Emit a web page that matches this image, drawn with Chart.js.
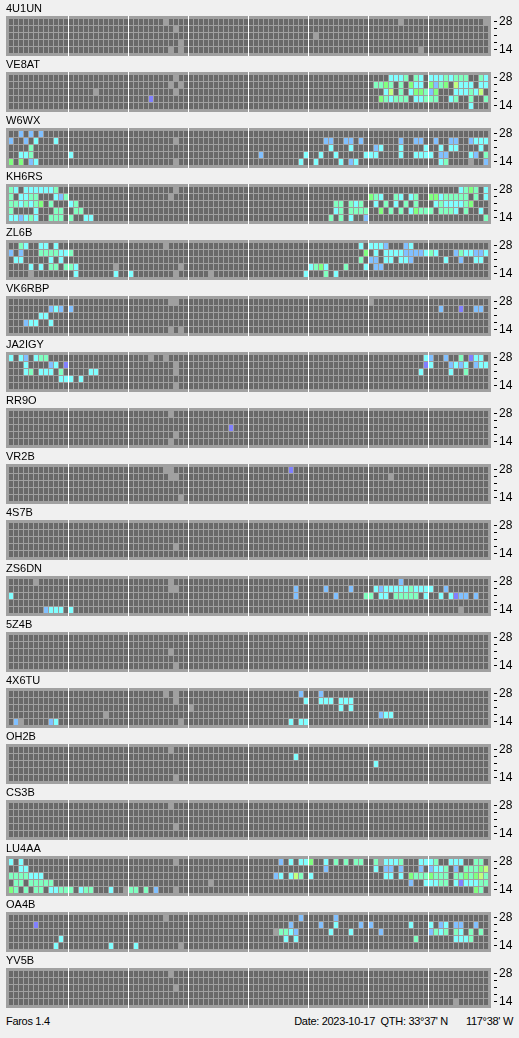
<!DOCTYPE html>
<html>
<head>
<meta charset="utf-8">
<script src="https://cdn.jsdelivr.net/npm/chart.js@4.4.0/dist/chart.umd.min.js"></script>
<style>
  html, body { margin: 0; padding: 0; background: #f0f0f0; }
  body {
    width: 519px; height: 1038px; position: relative; overflow: hidden;
    font-family: "Liberation Sans", Arial, sans-serif; font-size: 11px; color: #000;
  }
  .panel { position: absolute; left: 0; width: 519px; height: 56px; }
  .panel canvas { position: absolute; left: 0; top: 0; }
  .name { position: absolute; left: 6px; top: 2px; line-height: 13px; }
  .foot { position: absolute; top: 1015px; line-height: 13px; white-space: pre; letter-spacing: -0.3px; }
</style>
</head>
<body>
<script>
// 96 slots of 15 minutes (24 h), bands from bottom (14) to top (28)
const slots = Array.from({ length: 96 }, (_, i) => i);
const bands = ["14", "18", "21", "24", "28"];
const shownBands = ["14", "", "", "", "28"];

const beacons = ["4U1UN", "VE8AT", "W6WX", "KH6RS", "ZL6B", "VK6RBP", "JA2IGY", "RR9O", "VR2B",
  "4S7B", "ZS6DN", "5Z4B", "4X6TU", "OH2B", "CS3B", "LU4AA", "OA4B", "YV5B"];

// cell codes: . nothing heard, - no data, p/b/c/m/g/y = signal level (weak -> strong)
const palette = {
  ".": "#696969", p: "#8080ff", b: "#80c0ff", c: "#80ffff",
  m: "#80ffc0", g: "#80ff80", y: "#c0ff80",
};

// rows are listed top (28) to bottom (14); "|" splits the day into 3 h blocks
const E = "............";
const r_4U1UN = [
  `${E}|${E}|.......-....|${E}|${E}|${E}|......-.....|...........-`,
  `${E}|${E}|.........-..|${E}|${E}|${E}|${E}|${E}`,
  `${E}|${E}|${E}|${E}|${E}|.-..........|${E}|${E}`,
  `${E}|${E}|..........-.|${E}|${E}|${E}|${E}|${E}`,
  `${E}|${E}|........-.-.|${E}|${E}|${E}|..........-.|${E}`,
];
const r_VE8AT = [
  `${E}|${E}|.........-..|${E}|${E}|${E}|....cccm.mc.|cccmcmmm..mc`,
  `${E}|${E}|........-.-.|${E}|${E}|${E}|.mmgm.m.gcc.|gbmg.yccc.cc`,
  `${E}|.....-......|.........-..|${E}|${E}|${E}|...cy.m.cggm|bg...cccmcy.`,
  `${E}|${E}|....p.......|${E}|${E}|${E}|..gmcmmm.ccm|mm..cm..m..m`,
  `${E}|${E}|${E}|${E}|${E}|${E}|${E}|........c...`,
];
const r_W6WX = [
  `..b.b.b.....|${E}|${E}|${E}|${E}|${E}|${E}|${E}`,
  `b..b.c...c..|${E}|.........-..|${E}|${E}|...bb..bb.b.|......b..bb.|.b..bb..bccc`,
  `....m.......|${E}|${E}|${E}|${E}|....c...c...|.bc...c....c|..c.cc....c.`,
  `..ccm.......|c...........|${E}|${E}|..b........c|..c..c.....c|cc....c..ccc|c.bb....cb.m`,
  `g.g.bc......|${E}|.........-..|${E}|..........c.|.c....c.bc..|${E}|..cm....-..b`,
];
const r_KH6RS = [
  `mc.ccccccm..|${E}|.........-..|${E}|${E}|${E}|${E}|......cmgm.c`,
  `m.ccmm...cbm|${E}|........-...|${E}|${E}|${E}|gmc..mc.cm..|ggcmmmmm.m.c`,
  `mmcmcmg.m...|cm..........|${E}|${E}|${E}|.....mm.mcm.|.c.m.c.m.m..|.cmccccmg...`,
  `m....c...mm.|.mm.........|${E}|${E}|${E}|.....cm.mmmm|..g.m.m.cgmm|m.mmmc.m..c.`,
  `ccbcmc..mmm.|m..cc.......|${E}|${E}|${E}|....m.m.c..b|${E}|...........m`,
];
const r_ZL6B = [
  `..mc..cc.c..|${E}|.......-....|${E}|${E}|..........c.|cccb...bc...|${E}`,
  `b.b...mmmmcc|m...........|${E}|${E}|${E}|...........g|.c.ccccbbbbc|mc...bmccbbc`,
  `.cc.....c.c.|${E}|${E}|${E}|${E}|..........m.|bb.cc.ccb...|...c..b..cc.`,
  `....c.c.mm.m|mc.......-..|..........-.|${E}|${E}|cmgc...m...c|.bb.........|${E}`,
  `....-.......|.c.......c..|c........-..|....-.......|...........c|...m.c......|${E}|${E}`,
];
const r_VK6RBP = [
  `${E}|${E}|........--..|${E}|${E}|${E}|-...........|${E}`,
  `........bcb.|b...........|${E}|${E}|${E}|${E}|${E}|..b...p..bb.`,
  `......cc....|${E}|${E}|${E}|${E}|${E}|${E}|${E}`,
  `...bcc..c...|${E}|${E}|${E}|${E}|${E}|${E}|${E}`,
  `${E}|${E}|........-.-.|${E}|${E}|${E}|${E}|${E}`,
];
const r_JA2IGY = [
  `c.cb.cmm....|${E}|....-..-....|${E}|${E}|${E}|...........c|b..b..m.pcc.`,
  `...c....bc.p|${E}|.........-..|${E}|${E}|${E}|...........p|c...bcbc.bcc`,
  `...cm.ccc.m.|....cc......|.........-..|${E}|${E}|${E}|..........c.|....c..m....`,
  `..........cc|c.c.........|${E}|${E}|${E}|${E}|${E}|${E}`,
  `${E}|${E}|.........-..|${E}|${E}|${E}|${E}|${E}`,
];
const r_RR9O = [
  `${E}|${E}|........-...|${E}|${E}|${E}|${E}|${E}`,
  `${E}|${E}|${E}|${E}|${E}|${E}|${E}|${E}`,
  `${E}|${E}|${E}|........p...|${E}|${E}|${E}|${E}`,
  `${E}|${E}|.........-..|${E}|${E}|${E}|${E}|${E}`,
  `${E}|${E}|........-...|${E}|${E}|${E}|${E}|${E}`,
];
const r_VR2B = [
  `${E}|${E}|.......--...|${E}|........p...|${E}|${E}|${E}`,
  `${E}|${E}|........--..|${E}|${E}|${E}|....-.......|${E}`,
  `${E}|${E}|${E}|${E}|${E}|${E}|${E}|${E}`,
  `${E}|${E}|${E}|${E}|${E}|${E}|${E}|${E}`,
  `${E}|${E}|..........-.|${E}|${E}|${E}|${E}|${E}`,
];
const r_4S7B = [
  `${E}|${E}|${E}|${E}|${E}|${E}|${E}|${E}`,
  `${E}|${E}|${E}|${E}|${E}|${E}|${E}|${E}`,
  `${E}|${E}|${E}|${E}|${E}|${E}|${E}|${E}`,
  `${E}|${E}|.........-..|${E}|${E}|${E}|${E}|${E}`,
  `${E}|${E}|${E}|${E}|${E}|${E}|${E}|${E}`,
];
const r_ZS6DN = [
  `.....-......|${E}|........-...|${E}|${E}|${E}|......b.....|${E}`,
  `${E}|${E}|........--..|${E}|.........b..|...b....b...|.cbcccccmccc|c..b........`,
  `c...........|${E}|${E}|${E}|.........b..|.....b.....m|m.cc.mmmmm.c|..c.cpbb.b..`,
  `${E}|${E}|${E}|${E}|${E}|${E}|${E}|${E}`,
  `.......bccc.|c...........|${E}|${E}|${E}|${E}|${E}|......-.....`,
];
const r_5Z4B = [
  `${E}|${E}|${E}|${E}|${E}|${E}|${E}|${E}`,
  `${E}|${E}|${E}|${E}|${E}|${E}|${E}|${E}`,
  `${E}|${E}|........-...|${E}|${E}|${E}|${E}|${E}`,
  `${E}|${E}|${E}|${E}|${E}|${E}|${E}|${E}`,
  `${E}|${E}|.........-..|${E}|${E}|${E}|${E}|${E}`,
];
const r_4X6TU = [
  `${E}|${E}|.......-.-..|${E}|..........b.|..b.........|${E}|${E}`,
  `${E}|${E}|.........-..|${E}|...........c|..ccc.ccc...|${E}|${E}`,
  `${E}|${E}|${E}|-...........|${E}|......c.c...|${E}|${E}`,
  `${E}|.......-....|${E}|${E}|${E}|${E}|..bcc.......|${E}`,
  `.b-.....bc..|${E}|..........-.|${E}|........c.cc|${E}|${E}|${E}`,
];
const r_OH2B = [
  `${E}|${E}|........-...|${E}|${E}|${E}|${E}|${E}`,
  `${E}|${E}|${E}|${E}|.........c..|${E}|${E}|${E}`,
  `${E}|${E}|${E}|${E}|${E}|${E}|.c..........|${E}`,
  `${E}|${E}|${E}|${E}|${E}|${E}|${E}|${E}`,
  `${E}|${E}|.........-..|${E}|${E}|${E}|${E}|${E}`,
];
const r_CS3B = [
  `${E}|${E}|........-...|${E}|${E}|${E}|${E}|${E}`,
  `${E}|${E}|${E}|${E}|${E}|${E}|${E}|${E}`,
  `${E}|${E}|${E}|${E}|${E}|${E}|${E}|${E}`,
  `${E}|${E}|.........-..|${E}|${E}|${E}|${E}|${E}`,
  `${E}|${E}|${E}|${E}|${E}|${E}|${E}|${E}`,
];
const r_LU4AA = [
  `c.c.........|${E}|.........-..|${E}|......b.c.cc|g..c.m.m.mm.|.m-cccm...cc|cm..ccc..mm.`,
  `..cc........|${E}|${E}|${E}|${E}|...b........|.c.bb.b...b.|bccm.b.mmmgy`,
  `mmmmccc.....|${E}|${E}|${E}|.....bc.cym.|c...........|...cc.c.gmmm|gmmm.mmgmgym`,
  `.mm.mmmmm...|${E}|${E}|....-.......|${E}|${E}|........b..c|ccmm.cpcccmm`,
  `gm.m.mm.ccmm|m.cmm...c..-|mm.m.b...-..|${E}|${E}|${E}|${E}|.........gm.`,
];
const r_OA4B = [
  `${E}|${E}|.......-....|${E}|..........b.|.....b......|${E}|${E}`,
  `.....p......|${E}|${E}|${E}|........b...|..b..c....b.|b.......c...|c.bc.bb..b..`,
  `${E}|${E}|${E}|${E}|.....-mmcb..|....c...c...|..b.........|bmcm.mc.m.m.`,
  `..........c.|${E}|${E}|${E}|.......c.c..|${E}|.........m..|.....cccm...`,
  `.........c..|........c...|.c........-.|${E}|${E}|${E}|${E}|${E}`,
];
const r_YV5B = [
  `${E}|${E}|........-...|${E}|${E}|${E}|${E}|${E}`,
  `${E}|${E}|${E}|${E}|${E}|${E}|${E}|${E}`,
  `${E}|${E}|.........-..|${E}|${E}|${E}|${E}|${E}`,
  `${E}|${E}|${E}|${E}|${E}|${E}|${E}|${E}`,
  `${E}|${E}|${E}|${E}|${E}|${E}|${E}|.....-......`,
];

const grids = [r_4U1UN, r_VE8AT, r_W6WX, r_KH6RS, r_ZL6B, r_VK6RBP, r_JA2IGY, r_RR9O, r_VR2B,
  r_4S7B, r_ZS6DN, r_5Z4B, r_4X6TU, r_OH2B, r_CS3B, r_LU4AA, r_OA4B, r_YV5B];

// footer texts, anchored by their right edge
const footer = [
  ["Faros 1.4", null],
  ["Date: 2023-10-17", 144],
  ["QTH: 33°37' N", 71],
  ["117°38' W", 6],
];

const FRAME = "#a0a0a0";
const PANEL_H = 56;
const BLOCK = 12; // slots per 3 h block

const framePlugin = {
  id: "frame",
  beforeDraw(chart) {
    const { ctx, chartArea: a } = chart;
    ctx.save();
    ctx.fillStyle = FRAME;
    ctx.fillRect(a.left - 2, a.top - 2, a.width + 5, a.height + 5);
    ctx.restore();
  },
  afterDatasetsDraw(chart) {
    const { ctx, chartArea: a } = chart;
    const x = chart.scales.x;
    const step = x.getPixelForValue(1) - x.getPixelForValue(0);
    ctx.save();
    ctx.fillStyle = "#ffffff";
    for (let i = BLOCK; i < slots.length; i += BLOCK) {
      const px = Math.round(x.getPixelForValue(i) - step / 2);
      ctx.fillRect(px, a.top - 2, 1, a.height + 5);
    }
    ctx.restore();
  },
};

function cells(row) {
  return row.replace(/\|/g, "").split("");
}

function makeDatasets(rows) {
  return rows.map((row, r) => {
    const band = bands.length - 1 - r;
    const codes = cells(row);
    return {
      data: codes.map((c) => (c === "-" ? null : [band, band + 1])),
      backgroundColor: codes.map((c) => palette[c] || palette["."]),
      borderColor: FRAME,
      borderWidth: { top: 1, left: 1, right: 0, bottom: 0 },
      borderSkipped: false,
      inflateAmount: 0,
      barPercentage: 1,
      categoryPercentage: 1,
      grouped: false,
    };
  });
}

beacons.forEach((name, k) => {
  const panel = document.createElement("div");
  panel.className = "panel";
  panel.style.top = `${k * PANEL_H}px`;
  const canvas = document.createElement("canvas");
  canvas.width = 519;
  canvas.height = PANEL_H;
  canvas.style.width = "519px";
  canvas.style.height = `${PANEL_H}px`;
  panel.appendChild(canvas);
  const label = document.createElement("div");
  label.className = "name";
  label.textContent = name;
  panel.appendChild(label);
  document.body.appendChild(panel);

  new Chart(canvas.getContext("2d"), {
    type: "bar",
    data: { labels: slots, datasets: makeDatasets(grids[k]) },
    options: {
      responsive: false,
      animation: false,
      events: [],
      layout: { padding: { left: 8, top: 18, right: 0, bottom: 3 } },
      plugins: { legend: { display: false }, tooltip: { enabled: false } },
      scales: {
        x: { display: false, offset: true },
        y: {
          position: "right",
          min: 0,
          max: bands.length,
          afterBuildTicks: (s) => {
            s.ticks = bands.map((_, i) => ({ value: i + 0.5 }));
          },
          afterFit: (s) => {
            s.width = 31;
            s.paddingTop = 0;
            s.paddingBottom = 0;
          },
          border: { display: false },
          grid: {
            drawOnChartArea: false,
            drawTicks: true,
            tickLength: 9,
            tickColor: "#000000",
            tickWidth: 1,
            tickBorderDash: [3, 6],
            tickBorderDashOffset: 3,
          },
          ticks: {
            autoSkip: false,
            padding: 2,
            color: "#000000",
            font: { family: "'Liberation Sans', Arial, sans-serif", size: 12 },
            callback: (v, i) => shownBands[i],
          },
        },
      },
    },
    plugins: [framePlugin],
  });
});

footer.forEach(([text, right]) => {
  const d = document.createElement("div");
  d.className = "foot";
  if (right === null) d.style.left = "6px";
  else d.style.right = `${right}px`;
  d.textContent = text;
  document.body.appendChild(d);
});
</script>
</body>
</html>
